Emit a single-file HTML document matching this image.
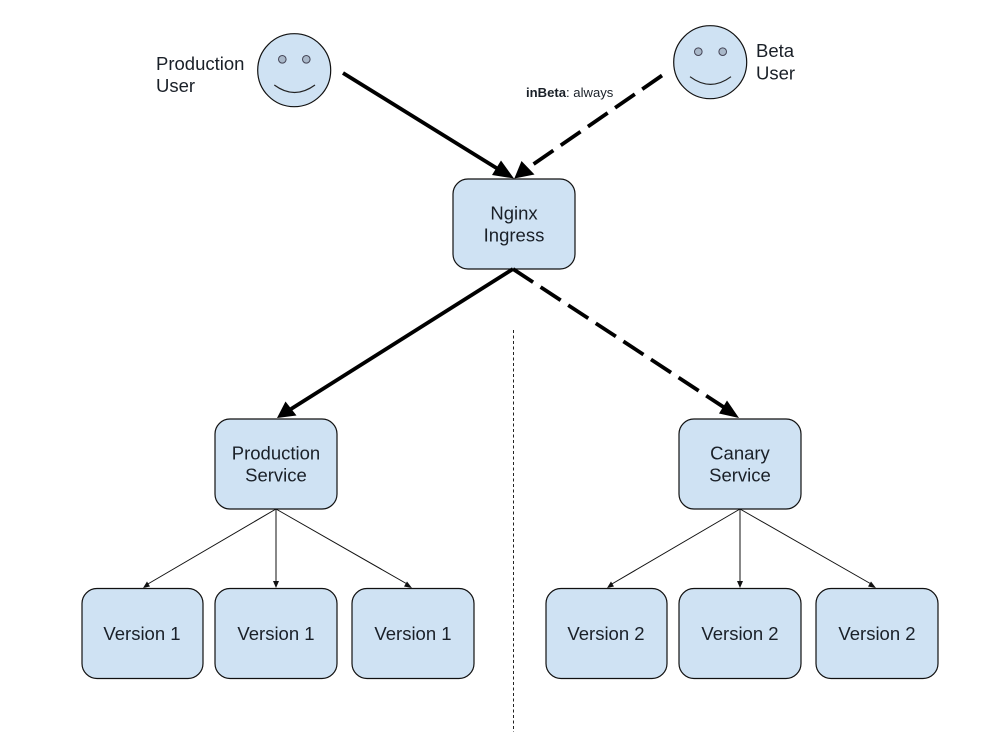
<!DOCTYPE html>
<html><head><meta charset="utf-8"><style>
html,body{margin:0;padding:0;background:#fff;width:999px;height:738px;overflow:hidden}
svg{display:block}
text{font-family:"Liberation Sans",sans-serif;font-size:18.5px;fill:#1a2028;text-anchor:middle}
.s{text-anchor:start}
rect,circle.f{fill:#cfe2f3;stroke:#111;stroke-width:1.2}
.e{fill:#a9b8c9;stroke:#445;stroke-width:1}
.m{fill:none;stroke:#222;stroke-width:1.2}
.t{stroke:#000;stroke-width:3.8;fill:none}
.n{stroke:#111;stroke-width:1;fill:none}
</style></head><body>
<svg width="999" height="738" viewBox="0 0 999 738" xmlns="http://www.w3.org/2000/svg">
<rect x="453" y="179" width="122" height="90" rx="15"/>
<rect x="215" y="419" width="122" height="90" rx="15"/>
<rect x="679" y="419" width="122" height="90" rx="15"/>
<rect x="82" y="588.500" width="121" height="90" rx="15"/>
<rect x="215" y="588.500" width="122" height="90" rx="15"/>
<rect x="352" y="588.500" width="122" height="90" rx="15"/>
<rect x="546" y="588.500" width="121" height="90" rx="15"/>
<rect x="679" y="588.500" width="122" height="90" rx="15"/>
<rect x="816" y="588.500" width="122" height="90" rx="15"/>

<circle class="f" cx="294.200" cy="70.200" r="36.500"/>
<circle class="e" cx="282.300" cy="59.300" r="3.800"/><circle class="e" cx="306.300" cy="59.300" r="3.800"/>
<path class="m" d="M274.300 85Q294.500 100 315 85"/>
<circle class="f" cx="710.200" cy="62.200" r="36.500"/>
<circle class="e" cx="698.300" cy="51.700" r="3.800"/><circle class="e" cx="722.700" cy="51.700" r="3.800"/>
<path class="m" d="M690 76.700Q710.500 92 731 76.700"/>

<line class="t" x1="343" y1="73" x2="498" y2="169"/>
<polygon points="514,178.500 492,175 501,160.500"/>
<line class="t" x1="662" y1="75.500" x2="533" y2="164.500" stroke-dasharray="24 9"/>
<polygon points="514.300,178.500 521.500,161 534.500,174.500"/>
<line class="t" x1="513" y1="269" x2="291" y2="409"/>
<polygon points="277,418 285.500,401.500 296.500,415.500"/>
<line class="t" x1="513" y1="269" x2="725" y2="408" stroke-dasharray="24 9"/>
<polygon points="739,418 719,413.500 727,400.500"/>

<line x1="513.500" y1="330" x2="513.500" y2="732" stroke="#222" stroke-width="1" stroke-dasharray="3 2.500"/>

<path class="n" d="M276 509L147 584.500M276 509V583M276 509L408 584.500M740 509L611 584.500M740 509V583M740 509L872 584.500"/>
<g fill="#111">
<polygon points="143,588 147,581.500 150,586.500"/><polygon points="276,588 273,581 279,581"/><polygon points="412,588 404,586.500 407,581.500"/>
<polygon points="607,588 611,581.500 614,586.500"/><polygon points="740,588 737,581 743,581"/><polygon points="876,588 868,586.500 871,581.500"/>
</g>

<text class="s" x="156" y="70">Production</text><text class="s" x="156" y="92">User</text>
<text class="s" x="756" y="57">Beta</text><text class="s" x="756" y="79.500">User</text>
<text class="s" x="526" y="97" style="font-size:13.100px"><tspan font-weight="700">inBeta</tspan>: always</text>
<text x="514" y="219.500">Nginx</text><text x="514" y="241.500">Ingress</text>
<text x="276" y="459.500">Production</text><text x="276" y="481.500">Service</text>
<text x="740" y="459.500">Canary</text><text x="740" y="481.500">Service</text>
<text x="142" y="640">Version 1</text><text x="276" y="640">Version 1</text><text x="413" y="640">Version 1</text>
<text x="606" y="640">Version 2</text><text x="740" y="640">Version 2</text><text x="877" y="640">Version 2</text>
</svg>
</body></html>
